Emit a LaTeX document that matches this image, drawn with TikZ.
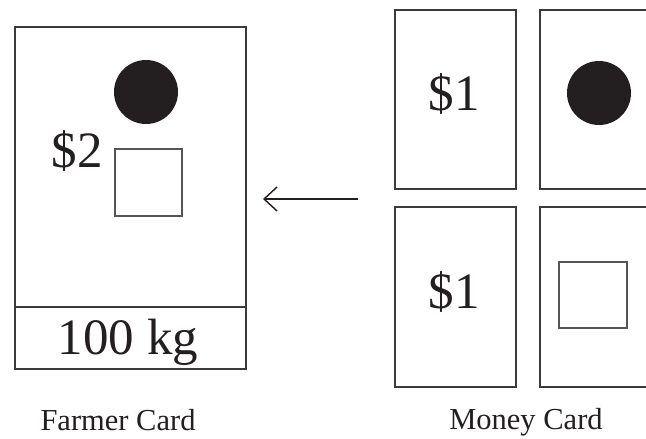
\documentclass[tikz,border=0pt]{standalone}
\usepackage{fontspec}
\setmainfont{Liberation Serif}
\usetikzlibrary{arrows.meta}
\definecolor{ink}{HTML}{231F20}
\definecolor{edge}{HTML}{3A3A3A}
\definecolor{thin}{HTML}{555555}
\begin{document}
\begin{tikzpicture}[x=1pt,y=-1pt,
  card/.style={draw=edge,line width=1.4pt,fill=none},
  sq/.style={draw=thin,line width=1.1pt},
  dot/.style={fill=ink},
  big/.style={font=\fontsize{51}{55}\selectfont,text=ink,inner sep=0pt,anchor=base},
  lab/.style={font=\fontsize{30.5}{34}\selectfont,text=ink,inner sep=0pt,anchor=base},
  arr/.style={draw=ink,line width=1.4pt,-{Straight Barb[length=13pt,width=24pt,line width=1.4pt]}}]
\path[use as bounding box] (0,0) rectangle (646,439);
\clip (0,0) rectangle (646,439);
% Farmer card
\draw[card] (15,27) rectangle (246,369);
\draw[card] (15,307) -- (246,307);
\fill[dot] (146,92) circle (32);
\draw[sq] (115,149) rectangle (182,216);
\node[big] (two) at (77,167) {\$2};
\node[big] (kg) at (128,354) {100 kg};
% Money cards
\draw[card] (395,10) rectangle (516,189);
\draw[card] (540,10) rectangle (670,189);
\draw[card] (395,207) rectangle (516,387);
\draw[card] (540,207) rectangle (670,387);
\node[big] (one1) at (454,110) {\$1};
\node[big] (one2) at (454,308) {\$1};
\fill[dot] (599,93) circle (32);
\draw[sq] (559,262) rectangle (627,328);
% Arrow
\coordinate (astart) at (358,199);
\coordinate (aend) at (263,199);
\draw[arr] (astart) -- (aend);
% Labels
\node[lab] (fc) at (118,430) {Farmer Card};
\node[lab] (mc) at (526,429) {Money Card};
\end{tikzpicture}
\end{document}
